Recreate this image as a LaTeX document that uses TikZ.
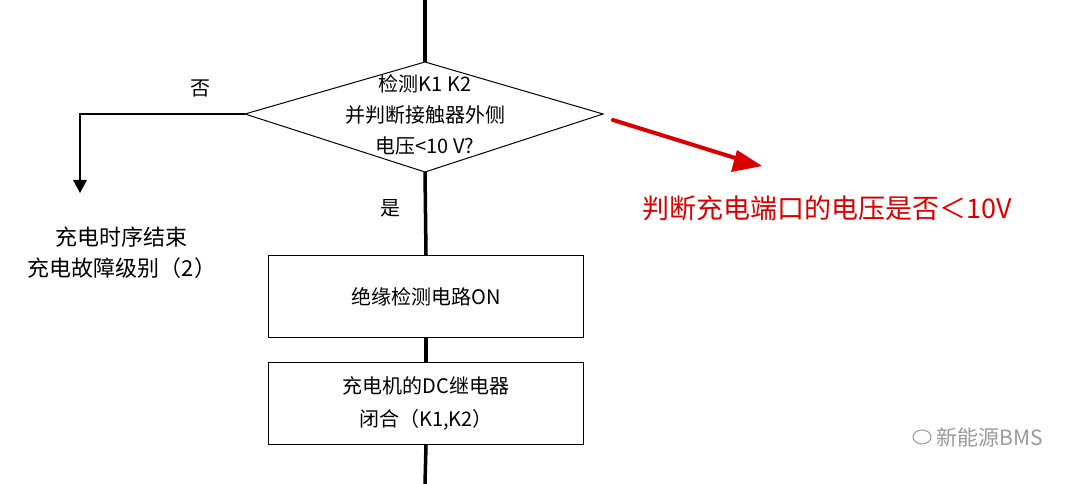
\documentclass[tikz,border=0pt]{standalone}
\usepackage{fontspec}
\newfontfamily\cjk{Noto Sans CJK SC}
\begin{document}
\begin{tikzpicture}[x=1pt,y=-1pt,
  flow/.style={line width=3.5pt},
  thin/.style={line width=1pt},
  lbl/.style={font=\cjk\fontsize{20}{24}\selectfont, align=center, inner sep=0},
  boxn/.style={draw, line width=1pt, minimum width=315pt, minimum height=82pt, anchor=north west, font=\cjk\fontsize{20}{33}\selectfont, align=center}]
\useasboundingbox (0,0) rectangle (1080,484);
\coordinate (top) at (425,0);
\coordinate (dt) at (425,62);
\coordinate (db) at (425,172);
\coordinate (dl) at (245,114);
\coordinate (dr) at (603,114);
\draw[thin] (dt) -- (dr) -- (db) -- (dl) -- cycle;
\node[lbl, font=\cjk\fontsize{20}{31}\selectfont] (dtext) at (425,115) {检测K1 K2\\并判断接触器外侧\\电压<10 V?};
\draw[flow] (top) -- (dt);
\node[boxn] (b1) at (268,255) {绝缘检测电路ON};
\node[boxn] (b2) at (268,362) {充电机的DC继电器\\闭合（K1,K2）};
\draw[flow] (db) -- (b1.north);
\draw[flow] (b1.south) -- (b2.north);
\coordinate (bot) at (425,484);
\draw[flow] (b2.south) -- (bot);
\node[lbl] (yes) at (390,208) {是};
\node[lbl] (no) at (200,88) {否};
\coordinate (corner) at (80,114);
\coordinate (end) at (80,193);
\draw[line width=2pt] (dl) -- (corner) -- ++(0,68);
\fill (73,180) -- (87,180) -- (end) -- cycle;
\node[lbl, font=\cjk\fontsize{22}{24}\selectfont] (t1) at (122,237) {充电时序结束};
\node[lbl, font=\cjk\fontsize{22}{24}\selectfont] (t2) at (122,268) {充电故障级别（2）};
\coordinate (ra) at (613,120);
\coordinate (rb) at (762,166);
\draw[red!85!black, line width=4pt, line cap=round] (ra) -- (745,161);
\fill[red!85!black] (rb) -- (737,150) -- (731,172) -- cycle;
\node[font=\cjk\fontsize{27}{30}\selectfont, text=red!85!black, inner sep=0] (rt) at (827,208) {判断充电端口的电压是否＜10V};
\node[font=\cjk\fontsize{21}{24}\selectfont, text=gray!80, inner sep=0] (wm) at (990,437) {新能源BMS};
\draw[gray!80, line width=1pt] (922,437) ellipse (9 and 7);
\end{tikzpicture}
\end{document}
